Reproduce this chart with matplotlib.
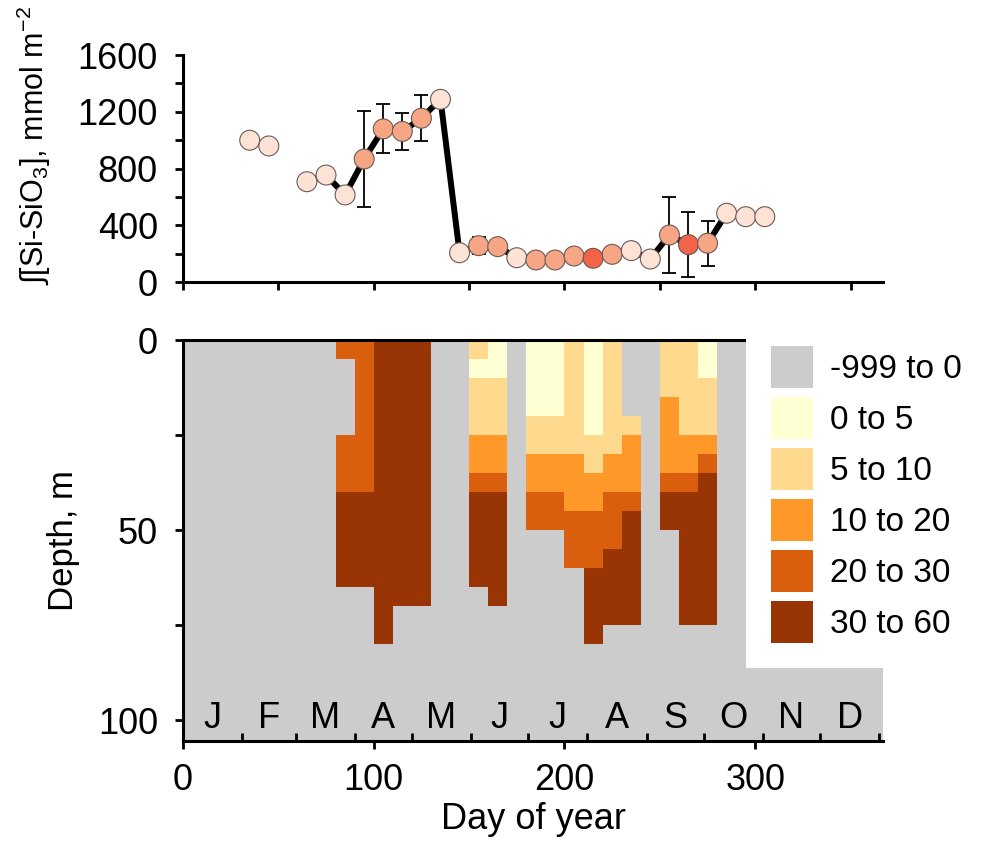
import numpy as np
import matplotlib
matplotlib.use("Agg")
import matplotlib.pyplot as plt
import matplotlib.patches as mpatches
from matplotlib.colors import ListedColormap, BoundaryNorm

plt.rcParams["font.family"] = ["Liberation Sans", "DejaVu Sans"]
plt.rcParams["mathtext.fontset"] = "custom"
plt.rcParams["mathtext.rm"] = "Liberation Sans"
plt.rcParams["mathtext.it"] = "Liberation Sans"

# --- top panel: integrated silicate ---
days = [35, 45, 65, 75, 85, 95, 105, 115, 125, 135, 145, 155, 165, 175, 185,
        195, 205, 215, 225, 235, 245, 255, 265, 275, 285, 295, 305]
si_int = [1000, 960, 708, 755, 615, 868, 1080, 1062, 1155, 1288, 208, 258, 251,
          173, 157, 157, 185, 169, 197, 223, 164, 333, 265, 275, 486, 462, 462]
si_err = [0, 0, 0, 0, 0, 335, 172, 133, 161, 0, 0, 60, 0,
          0, 0, 0, 0, 0, 0, 0, 0, 267, 227, 159, 0, 0, 0]
# point shade class: 0 pale, 1 salmon, 2 red
shade = [0, 0, 0, 0, 0, 1, 1, 1, 1, 0, 0, 1, 1,
         0, 1, 1, 1, 2, 1, 0, 0, 1, 2, 1, 0, 0, 0]
shade_colors = ["#fde3d6", "#f7a685", "#f2634a"]

# --- bottom panel: silicate by depth, class per 10-day x 5-m cell ---
col_start = np.arange(80, 290, 10)   # column edges, day of year
depth_edges = np.arange(0, 85, 5)    # row edges, m
# one list per 10-day column (rows 0-5 m ... 75-80 m); 0 = -999 to 0
profiles = [
    [4, 0, 0, 0, 0, 4, 4, 4, 5, 5, 5, 5, 5, 0, 0, 0],  # 80
    [4, 4, 4, 4, 4, 4, 4, 4, 5, 5, 5, 5, 5, 0, 0, 0],  # 90
    [5, 5, 5, 5, 5, 5, 5, 5, 5, 5, 5, 5, 5, 5, 5, 5],  # 100
    [5, 5, 5, 5, 5, 5, 5, 5, 5, 5, 5, 5, 5, 5, 0, 0],  # 110
    [5, 5, 5, 5, 5, 5, 5, 5, 5, 5, 5, 5, 5, 5, 0, 0],  # 120
    [0, 0, 0, 0, 0, 0, 0, 0, 0, 0, 0, 0, 0, 0, 0, 0],  # 130
    [0, 0, 0, 0, 0, 0, 0, 0, 0, 0, 0, 0, 0, 0, 0, 0],  # 140
    [2, 1, 2, 2, 2, 3, 3, 4, 5, 5, 5, 5, 5, 0, 0, 0],  # 150
    [1, 1, 2, 2, 2, 3, 3, 4, 5, 5, 5, 5, 5, 5, 0, 0],  # 160
    [0, 0, 0, 0, 0, 0, 0, 0, 0, 0, 0, 0, 0, 0, 0, 0],  # 170
    [1, 1, 1, 1, 2, 2, 3, 3, 4, 4, 0, 0, 0, 0, 0, 0],  # 180
    [1, 1, 1, 1, 2, 2, 3, 3, 4, 4, 0, 0, 0, 0, 0, 0],  # 190
    [2, 2, 2, 2, 2, 2, 3, 3, 3, 4, 4, 4, 0, 0, 0, 0],  # 200
    [1, 1, 1, 1, 1, 2, 2, 3, 3, 4, 4, 4, 5, 5, 5, 5],  # 210
    [2, 2, 2, 2, 2, 2, 3, 3, 4, 4, 4, 5, 5, 5, 5, 0],  # 220
    [0, 0, 0, 0, 2, 3, 3, 3, 4, 5, 5, 5, 5, 5, 5, 0],  # 230
    [0, 0, 0, 0, 0, 0, 0, 0, 0, 0, 0, 0, 0, 0, 0, 0],  # 240
    [2, 2, 2, 3, 3, 3, 3, 4, 5, 5, 0, 0, 0, 0, 0, 0],  # 250
    [2, 2, 2, 2, 2, 3, 3, 4, 5, 5, 5, 5, 5, 5, 5, 0],  # 260
    [1, 1, 2, 2, 2, 3, 4, 5, 5, 5, 5, 5, 5, 5, 5, 0],  # 270
]
class_labels = ["-999 to 0", "0 to 5", "5 to 10", "10 to 20", "20 to 30", "30 to 60"]
class_colors = ["#cccccc", "#ffffd4", "#fed98e", "#fe9929", "#d95f0e", "#993404"]

month_letters = ["J", "F", "M", "A", "M", "J", "J", "A", "S", "O", "N", "D"]
month_ends = [31, 59, 90, 120, 151, 181, 212, 243, 273, 304, 334, 365]

FS = 26
FS_LEG = 24
fig = plt.figure(figsize=(9.9, 8.49), dpi=100)
ax1 = fig.add_axes([0.1848, 0.6675, 0.7072, 0.2677])
ax2 = fig.add_axes([0.1848, 0.1272, 0.7072, 0.4723])

# top panel
d = np.array(days)
v = np.array(si_int)
e = np.array(si_err)
breaks = np.where(np.diff(d) > 15)[0] + 1
for seg_d, seg_v in zip(np.split(d, breaks), np.split(v, breaks)):
    ax1.plot(seg_d, seg_v, color="black", lw=4.3, zorder=2, solid_capstyle="butt")
m = e > 0
ax1.errorbar(d[m], v[m], yerr=e[m], fmt="none", ecolor="black", elinewidth=1.3,
             capsize=5, capthick=1.3, zorder=1)
ax1.scatter(d, v, s=205, c=[shade_colors[k] for k in shade], edgecolors="#6b5a55",
            linewidths=0.8, zorder=3)
ax1.set_xlim(0, 367)
ax1.set_ylim(0, 1600)
ax1.set_yticks([0, 400, 800, 1200, 1600])
ax1.set_yticks([200, 600, 1000, 1400], minor=True)
ax1.set_xticks(np.arange(0, 360, 50))
ax1.set_xticklabels([])
ax1.spines[["top", "right"]].set_visible(False)
for s in ["left", "bottom"]:
    ax1.spines[s].set_linewidth(2.2)
ax1.tick_params(which="both", direction="out", length=6, width=2, labelsize=FS, pad=12)
ax1.set_ylabel("\u222b[Si-SiO$_3$], mmol m$^{-2}$", fontsize=22)
ax1.yaxis.set_label_coords(-0.185, 0.6)

# bottom panel
grid = np.array(profiles).T
cmap = ListedColormap(class_colors)
norm = BoundaryNorm(np.arange(-0.5, 6.5, 1), cmap.N)
ax2.set_facecolor(class_colors[0])
ax2.pcolormesh(col_start, depth_edges, grid, cmap=cmap, norm=norm)
ax2.set_xlim(0, 367)
ax2.set_ylim(105.5, 0)
ax2.set_yticks([0, 50, 100])
ax2.set_yticks([25, 75], minor=True)
ax2.set_xticks([0, 100, 200, 300])
ax2.set_xticks(month_ends, minor=True)
ax2.spines["right"].set_visible(False)
for s in ["left", "bottom", "top"]:
    ax2.spines[s].set_linewidth(2.2)
ax2.tick_params(which="both", direction="out", length=6, width=2, labelsize=FS)
ax2.tick_params(axis="y", pad=12)
ax2.tick_params(axis="x", pad=10)
ax2.tick_params(axis="x", which="minor", direction="in", length=6, width=2)
ax2.set_ylabel("Depth, m", fontsize=25)
ax2.yaxis.set_label_coords(-0.147, 0.5)
ax2.set_xlabel("Day of year", fontsize=FS, labelpad=3)

starts = [0] + month_ends[:-1]
for a, b, lt in zip(starts, month_ends, month_letters):
    ax2.text((a + b) / 2, 99.7, lt, fontsize=FS, ha="center", va="center")

handles = [mpatches.Patch(facecolor=c, edgecolor="none") for c in class_colors]
leg = ax2.legend(handles, class_labels, loc="upper left",
                 bbox_to_anchor=(746 / 990, 1 - 321 / 849),
                 bbox_transform=fig.transFigure, fontsize=FS_LEG, frameon=True,
                 fancybox=False, framealpha=1, facecolor="white", edgecolor="none",
                 handlelength=1.26, handleheight=1.55, handletextpad=0.5,
                 labelspacing=0.28, borderpad=0.75, borderaxespad=0)
leg.set_zorder(10)

fig.savefig("out.png", dpi=100)
